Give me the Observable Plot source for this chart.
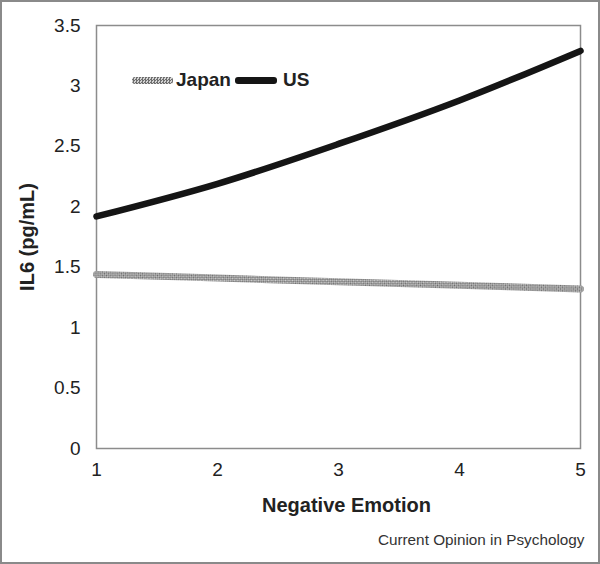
<!DOCTYPE html>
<html>
<head>
<meta charset="utf-8">
<script src="https://cdn.jsdelivr.net/npm/d3@7"></script>
<script src="https://cdn.jsdelivr.net/npm/@observablehq/plot@0.6"></script>
<style>
  body { margin: 0; background: #fff; }
  #wrap { position: relative; width: 600px; height: 564px; font-family: "Liberation Sans", Arial, sans-serif; }
  #wrap svg { display: block; outline: 2px solid #8a8a8a; outline-offset: -2px; }
  #legend { position: absolute; left: 132px; top: 69px; display: flex; align-items: center; font-weight: bold; font-size: 19px; color: #222; }
  .sw { display: inline-block; height: 7px; border-radius: 3px; }
  .sw.jp { width: 41px; background: repeating-conic-gradient(#6e6e6e 0 25%, #d2d2d2 0 50%) 0 0 / 3px 3px; margin-right: 3px; }
  .sw.us { width: 42px; background: #151515; margin: 0 6px 0 4px; }
</style>
</head>
<body>
<div id="wrap"></div>
<script>
const negEmotion = [1, 2, 3, 4, 5];
const japanIL6 = [1.44, 1.41, 1.38, 1.35, 1.32];
const usIL6 = [1.92, 2.19, 2.52, 2.88, 3.29];
const yTicks = [0, 0.5, 1, 1.5, 2, 2.5, 3, 3.5];
const xTicks = [1, 2, 3, 4, 5];
const seriesNames = ["Japan", "US"];
const xTitle = "Negative Emotion";
const yTitle = "IL6 (pg/mL)";
const caption = "Current Opinion in Psychology";

const japan = negEmotion.map((x, i) => ({x, y: japanIL6[i]}));
const us = negEmotion.map((x, i) => ({x, y: usIL6[i]}));

const chart = Plot.plot({
  width: 600,
  height: 564,
  marginLeft: 96,
  marginRight: 20,
  marginTop: 25,
  marginBottom: 116,
  style: {fontFamily: "'Liberation Sans', Arial, sans-serif", fontSize: "19px", color: "#222", background: "transparent"},
  x: {domain: [1, 5]},
  y: {domain: [0, 3.5]},
  marks: [
    Plot.frame({stroke: "#8c8c8c", strokeWidth: 1.5}),
    Plot.axisY({ticks: yTicks, tickSize: 0, tickPadding: 16, tickFormat: d => String(d), label: null, fontSize: 19}),
    Plot.axisX({ticks: xTicks, tickSize: 0, tickPadding: 14, tickFormat: d => String(d), label: null, fontSize: 19}),
    Plot.line(japan, {x: "x", y: "y", curve: "catmull-rom", stroke: "url(#checker)", strokeWidth: 7}),
    Plot.line(us, {x: "x", y: "y", curve: "catmull-rom", stroke: "#151515", strokeWidth: 6.5}),
    Plot.text([xTitle], {frameAnchor: "bottom", dx: 8, dy: 63, fontWeight: "bold", fontSize: 20, fill: "#222"}),
    Plot.text([yTitle], {frameAnchor: "left", dx: -69, rotate: -90, textAnchor: "middle", fontWeight: "bold", fontSize: 20, fill: "#222"}),
    Plot.text([caption], {frameAnchor: "bottom-right", dx: 4, dy: 96, textAnchor: "end", fontSize: 15.3, fill: "#333"})
  ]
});

const defs = d3.select(chart).insert("defs", ":first-child");
const pat = defs.append("pattern")
  .attr("id", "checker")
  .attr("patternUnits", "userSpaceOnUse")
  .attr("width", 3).attr("height", 3)
  .attr("patternTransform", "rotate(45)");
pat.append("rect").attr("width", 3).attr("height", 3).attr("fill", "#d0d0d0");
pat.append("rect").attr("width", 1.5).attr("height", 1.5).attr("fill", "#6a6a6a");
pat.append("rect").attr("x", 1.5).attr("y", 1.5).attr("width", 1.5).attr("height", 1.5).attr("fill", "#6a6a6a");

const wrap = document.getElementById("wrap");
wrap.appendChild(chart);

const legend = document.createElement("div");
legend.id = "legend";
legend.innerHTML = `<span class="sw jp"></span><span>${seriesNames[0]}</span><span class="sw us"></span><span>${seriesNames[1]}</span>`;
wrap.appendChild(legend);
</script>
</body>
</html>
